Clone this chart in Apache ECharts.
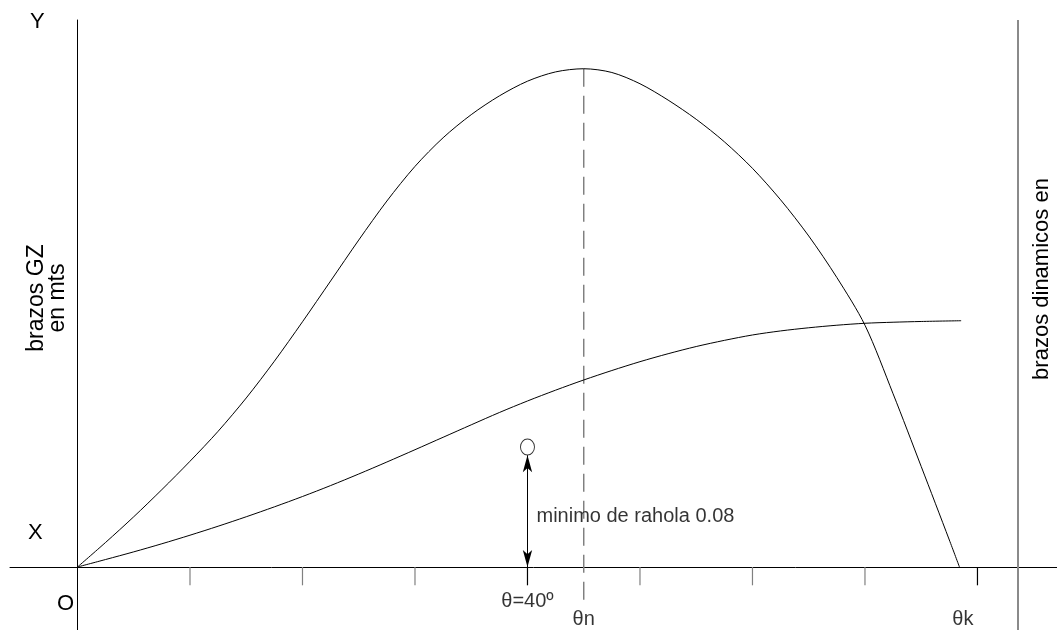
<!DOCTYPE html>
<html>
<head>
<meta charset="utf-8">
<script src="https://cdn.jsdelivr.net/npm/echarts@6/dist/echarts.min.js"></script>
<style>html,body{margin:0;padding:0;background:#fff}#c{width:1057px;height:630px}</style>
</head>
<body>
<div id="c"></div>
<script>
// GZ (righting arm) curve: angle in degrees, arm in metres
const gzAngles = [0, 2.5, 5, 7.5, 10, 12.5, 15, 17.5, 20, 22.5, 25, 27.5, 30, 32.5, 35, 37.5, 40, 42.5, 45, 47.5, 50, 52.5, 55, 57.5, 60, 62.5, 65, 67.5, 70, 72.5, 75, 77.5, 78.4];
const gzValues = [0, 0.0164, 0.0335, 0.0516, 0.0705, 0.0905, 0.1127, 0.1372, 0.1635, 0.1907, 0.2180, 0.2440, 0.2671, 0.2862, 0.3016, 0.3141, 0.3239, 0.3301, 0.3322, 0.3297, 0.3222, 0.3113, 0.2985, 0.2835, 0.2658, 0.2448, 0.2207, 0.1930, 0.1612, 0.1155, 0.0670, 0.0180, 0];
// dynamic arm curve
const dynAngles = [0, 2.5, 5, 7.5, 10, 12.5, 15, 17.5, 20, 22.5, 25, 27.5, 30, 32.5, 35, 37.5, 40, 42.5, 45, 47.5, 50, 52.5, 55, 57.5, 60, 62.5, 65, 67.5, 70, 72.5, 75, 78.55];
const dynValues = [0, 0.0050, 0.0101, 0.0155, 0.0212, 0.0272, 0.0335, 0.0401, 0.0470, 0.0543, 0.0620, 0.0700, 0.0782, 0.0865, 0.0948, 0.1030, 0.1107, 0.1179, 0.1247, 0.1310, 0.1369, 0.1422, 0.1470, 0.1511, 0.1547, 0.1574, 0.1595, 0.1612, 0.1625, 0.1632, 0.1637, 0.1642];
// axis tick positions (degrees)
const tickAngles = [10, 20, 30, 40, 50, 60, 70, 80];
// annotations
const raholaAngle = 40;
const raholaMin = 0.08;
const thetaN = 45;
const thetaNPeak = 0.3322;
const rightBorderAngle = 83.6;
const labelTexts = ['θ=40º', 'θn', 'θk', 'minimo de rahola 0.08'];
const labelX = [40, 45, 78.7, 40.8];
const labelY = [-0.0233, -0.0353, -0.0353, 0.034];

const FONT = "'Liberation Sans', Arial, sans-serif";

const chart = echarts.init(document.getElementById('c'), null, {renderer: 'canvas'});

const zip = (a, b) => a.map((v, i) => [v, b[i]]);

const option = {
  animation: false,
  backgroundColor: '#fff',
  grid: {left: 10, right: 0, top: 20, bottom: 0, containLabel: false},
  xAxis: {
    type: 'value', min: -6, max: 87.07,
    axisLine: {show: true, onZero: true, lineStyle: {color: '#000', width: 1}},
    axisTick: {show: false}, axisLabel: {show: false}, splitLine: {show: false}
  },
  yAxis: {
    type: 'value', min: -0.042, max: 0.3647,
    axisLine: {show: true, onZero: true, lineStyle: {color: '#000', width: 1}},
    axisTick: {show: false}, axisLabel: {show: false}, splitLine: {show: false}
  },
  graphic: [
    {type: 'text', left: 30, top: 11, style: {text: 'Y', font: '22px ' + FONT, fill: '#000'}},
    {type: 'text', left: 28, top: 522, style: {text: 'X', font: '22px ' + FONT, fill: '#000'}},
    {type: 'text', left: 57, top: 593, style: {text: 'O', font: '22px ' + FONT, fill: '#000'}},
    {type: 'text', x: 47, y: 298, rotation: Math.PI / 2,
      style: {text: 'brazos GZ\nen mts', font: '23px ' + FONT, fill: '#000', align: 'center', verticalAlign: 'middle', lineHeight: 21}},
    {type: 'text', x: 1042, y: 279, rotation: Math.PI / 2,
      style: {text: 'brazos dinamicos en', font: '22px ' + FONT, fill: '#000', align: 'center', verticalAlign: 'middle'}}
  ],
  series: [
    {
      name: 'GZ', type: 'line', data: zip(gzAngles, gzValues), smooth: 0.3,
      symbol: 'none', lineStyle: {color: '#000', width: 1}, z: 3
    },
    {
      name: 'dinamicos', type: 'line', data: zip(dynAngles, dynValues), smooth: 0.3,
      symbol: 'none', lineStyle: {color: '#000', width: 1}, z: 3
    },
    {
      name: 'thetaN', type: 'line', data: [[thetaN, thetaNPeak], [thetaN, -0.022]],
      symbol: 'none', lineStyle: {color: '#808080', width: 1.5, type: [18, 9]}, z: 2,
      markLine: {
        silent: true, symbol: ['none', 'none'], label: {show: false},
        lineStyle: {color: '#8a8a8a', width: 2, type: 'solid'},
        data: [{xAxis: rightBorderAngle}]
      }
    },
    {
      name: 'ticks', type: 'custom', data: tickAngles.map(a => [a]),
      renderItem: function (params, api) {
        const a = api.value(0);
        const p0 = api.coord([a, 0]);
        const p1 = api.coord([a, -0.0122]);
        return {
          type: 'line', shape: {x1: p0[0], y1: p0[1], x2: p1[0], y2: p1[1]},
          style: {stroke: (a === 80 || a === raholaAngle) ? '#000' : '#808080', lineWidth: 1.2}
        };
      }, z: 2
    },
    {
      name: 'rahola', type: 'scatter', data: [[raholaAngle, raholaMin]],
      symbol: 'circle', symbolSize: [14, 16],
      itemStyle: {color: '#fff', borderColor: '#000', borderWidth: 1}, z: 4,
      markLine: {
        silent: true, symbol: ['arrow', 'arrow'], symbolSize: [7, 17], label: {show: false},
        lineStyle: {color: '#000', width: 1, type: 'solid'},
        data: [[{coord: [raholaAngle, raholaMin - 0.0055]}, {coord: [raholaAngle, 0]}]]
      }
    },
    {
      name: 'labels', type: 'scatter', symbolSize: 0, z: 5,
      data: labelTexts.map((t, i) => ({name: t, value: [labelX[i], labelY[i]]})),
      label: {
        show: true, formatter: '{b}', color: '#000', fontSize: 20, fontFamily: FONT,
        position: 'inside'
      }
    }
  ]
};
// left-align the rahola text
option.series[5].data[3].label = {position: 'right', distance: 0, align: 'left'};
chart.setOption(option);
</script>
</body>
</html>
